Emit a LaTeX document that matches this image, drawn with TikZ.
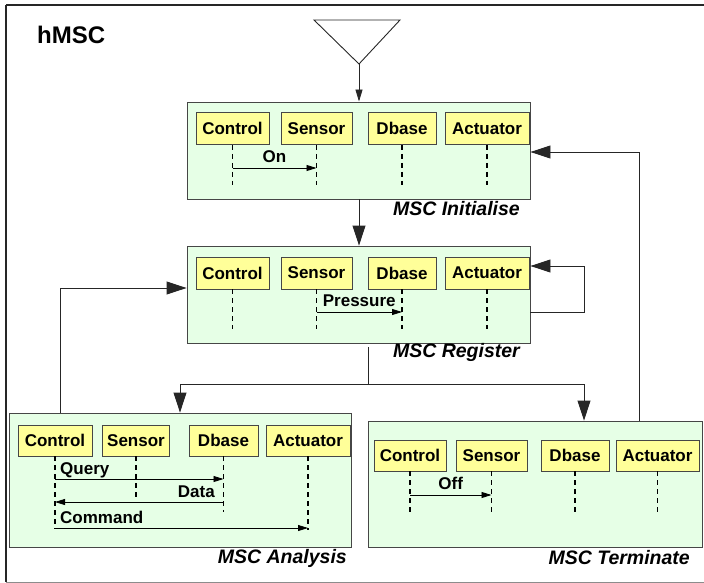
\documentclass[tikz,border=0pt]{standalone}
\usepackage{fontspec}
\setmainfont{Liberation Sans}
\usetikzlibrary{arrows.meta}
\definecolor{mscfill}{RGB}{230,255,230}
\definecolor{actorfill}{RGB}{255,255,153}
\definecolor{edge}{RGB}{70,70,70}
\tikzset{
  frame/.style={draw=black!85,line width=1.2pt},
  mscbox/.style={draw=edge,fill=mscfill,line width=0.9pt,inner sep=0pt},
  actor/.style={draw=edge,fill=actorfill,line width=0.9pt,inner sep=0pt,
    minimum height=32pt,font=\fontsize{17}{20}\selectfont\bfseries},
  life/.style={line width=1.6pt,dash pattern=on 5pt off 4pt},
  msg/.style={line width=0.8pt,-{Triangle[length=10pt,width=6pt]}},
  msglabel/.style={font=\fontsize{17}{20}\selectfont\bfseries,inner sep=0pt},
  flow/.style={draw=black!85,line width=0.9pt,-{Triangle[length=20pt,width=13pt]}},
  startflow/.style={draw=black!85,line width=0.9pt,-{Triangle[length=12pt,width=7pt]}},
  mscname/.style={font=\fontsize{19.5}{22}\selectfont\bfseries\itshape,inner sep=0pt,anchor=east},
}
\begin{document}
\begin{tikzpicture}[x=1pt,y=-1pt]
\useasboundingbox (0,0) rectangle (704,583);
% outer hMSC frame
\draw[frame] (6,5) -- (712,5);
\draw[frame] (6,5) -- (6,582);
\draw[draw=black!45,line width=1pt] (6,582) -- (712,582);
\node[font=\fontsize{24}{26}\selectfont\bfseries,anchor=west,inner sep=0pt] (title) at (37,35) {hMSC};

% start symbol
\coordinate (tl) at (314,20);
\coordinate (tr) at (400,20);
\coordinate (apex) at (359,64);
\draw[draw=black!85,line width=0.9pt] (tl) -- (tr) -- (apex) -- cycle;

% the four MSC frames
\node[mscbox,minimum width=343pt,minimum height=97pt] (init) at (358.5,150.5) {};
\node[mscbox,minimum width=343pt,minimum height=97pt] (reg) at (358.5,294.5) {};
\node[mscbox,minimum width=342pt,minimum height=134pt] (ana) at (180,480) {};
\node[mscbox,minimum width=334.5pt,minimum height=126pt] (term) at (535.25,484) {};

\node[mscname] (initname) at (520,209) {MSC Initialise};
\node[mscname] (regname) at (520,352) {MSC Register};
\node[mscname] (ananame) at (347,558) {MSC Analysis};
\node[mscname] (termname) at (690,558) {MSC Terminate};

% --- MSC Initialise ---
\node[actor,minimum width=73pt] (iC) at (232.5,128.5) {Control};
\node[actor,minimum width=71pt] (iS) at (316.5,128.5) {Sensor};
\node[actor,minimum width=68pt] (iD) at (402,128.5) {Dbase};
\node[actor,minimum width=84pt] (iA) at (487,128.5) {Actuator};
\foreach \a in {iC,iS,iD,iA} \draw[life] (\a.south) -- ++(0,40);
\draw[msg] (iC.south |- 0,168) -- (iS.south |- 0,168)
  node[msglabel,midway,above=5pt] {On};

% --- MSC Register ---
\node[actor,minimum width=73pt] (rC) at (232.5,273) {Control};
\node[actor,minimum width=71pt] (rS) at (316.5,273) {Sensor};
\node[actor,minimum width=68pt] (rD) at (402,273) {Dbase};
\node[actor,minimum width=84pt] (rA) at (487,273) {Actuator};
\foreach \a in {rC,rS,rD,rA} \draw[life] (\a.south) -- ++(0,40);
\draw[msg] (rS.south |- 0,312) -- (rD.south |- 0,312)
  node[msglabel,midway,above=5pt] {Pressure};

% --- MSC Analysis ---
\node[actor,minimum width=74pt,minimum height=31pt] (aC) at (55,440.5) {Control};
\node[actor,minimum width=67pt,minimum height=31pt] (aS) at (136,440.5) {Sensor};
\node[actor,minimum width=69pt,minimum height=31pt] (aD) at (223.5,440.5) {Dbase};
\node[actor,minimum width=84pt,minimum height=31pt] (aA) at (308,440.5) {Actuator};
\draw[life] (aC.south) -- (aC.south |- 0,529);
\draw[life] (aS.south) -- (aS.south |- 0,497);
\draw[life] (aD.south) -- (aD.south |- 0,512);
\draw[life] (aA.south) -- (aA.south |- 0,530);
\draw[msg] (aC.south |- 0,479) -- (aD.south |- 0,479);
\node[msglabel,anchor=base west] (qlab) at (60,474) {Query};
\draw[msg] (aD.south |- 0,502) -- (aC.south |- 0,502);
\node[msglabel,anchor=base east] (dlab) at (215,497) {Data};
\draw[msg] (aC.south |- 0,528) -- (aA.south |- 0,528);
\node[msglabel,anchor=base west] (clab) at (60,523) {Command};

% --- MSC Terminate ---
\node[actor,minimum width=72pt,minimum height=31pt] (tC) at (410,455.5) {Control};
\node[actor,minimum width=71pt,minimum height=31pt] (tS) at (491.5,455.5) {Sensor};
\node[actor,minimum width=68pt,minimum height=31pt] (tD) at (575,455.5) {Dbase};
\node[actor,minimum width=83pt,minimum height=31pt] (tA) at (657.5,455.5) {Actuator};
\foreach \a in {tC,tS,tD,tA} \draw[life] (\a.south) -- (\a.south |- 0,512);
\draw[msg] (tC.south |- 0,495) -- (tS.south |- 0,495)
  node[msglabel,midway,above=5pt] {Off};

% --- hMSC flow ---
\draw[startflow] (apex) -- (init.north -| apex);
\draw[flow] (init.south -| apex) -- (reg.north -| apex);
% Register may repeat
\coordinate (loopx) at (584,0);
\draw[flow] (reg.east |- 0,312) -- (loopx |- 0,312) -- (loopx |- 0,266) -- (reg.east |- 0,266);
% branch after Register
\coordinate (fork) at (368,384);
\draw[draw=black!85,line width=0.9pt] (reg.south -| fork) ++(0,4) -- (fork);
\draw[draw=black!85,line width=0.9pt] (180,384) -- (584,384);
\draw[flow] (fork -| ana.north) -- (ana.north);
\draw[flow] (fork -| loopx) -- (term.north -| loopx);
% Analysis returns to Register
\coordinate (backx) at (60,0);
\draw[flow] (ana.north -| backx) -- (backx |- 0,288) -- (reg.west |- 0,288);
% Terminate returns to Initialise
\coordinate (retx) at (639,0);
\draw[flow] (term.north -| retx) -- (retx |- 0,152) -- (init.east |- 0,152);
\end{tikzpicture}
\end{document}
